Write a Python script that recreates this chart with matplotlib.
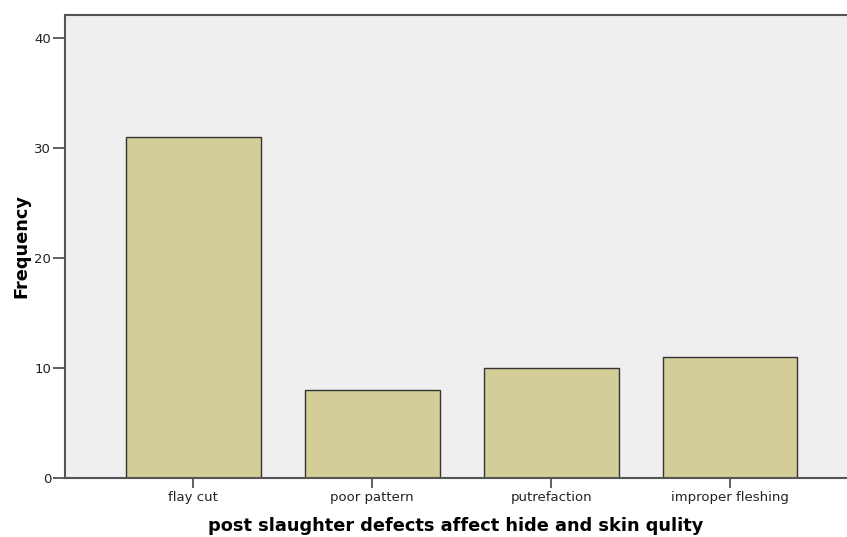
import numpy as np
import matplotlib
matplotlib.use("Agg")
import matplotlib.pyplot as plt

# defects and their counts
defects = ["flay cut", "poor pattern", "putrefaction", "improper fleshing"]
frequency = [31, 8, 10, 11]

fig = plt.figure(figsize=(8.47, 5.37), dpi=100)
ax = fig.add_axes([65 / 847, 1 - 478 / 537, 1 - 65 / 847, 463 / 537])
ax.set_facecolor("#efefef")

x = np.arange(len(defects))
ax.bar(x, frequency, width=0.754, color="#d3ce97", edgecolor="#333333", linewidth=1.0, zorder=2)

ax.set_xlim(-0.718, 3.654)
ax.set_ylim(0, 42.1)
ax.set_yticks([0, 10, 20, 30, 40])
ax.set_xticks(x)
ax.set_xticklabels(defects)
ax.tick_params(axis="y", labelsize=9.5, length=9, width=1.2, color="#444444", labelcolor="#222222", pad=1)
ax.tick_params(axis="x", labelsize=9.5, length=7, width=1.2, color="#444444", labelcolor="#222222", pad=2)

for s in ["left", "bottom", "top"]:
    ax.spines[s].set_color("#555555")
    ax.spines[s].set_linewidth(1.5)
ax.spines["right"].set_visible(False)

ax.set_xlabel("post slaughter defects affect hide and skin qulity", fontsize=12.8, fontweight="bold", labelpad=10)
ax.set_ylabel("Frequency", fontsize=12.8, fontweight="bold", labelpad=3)

plt.savefig("out.png", dpi=100)
